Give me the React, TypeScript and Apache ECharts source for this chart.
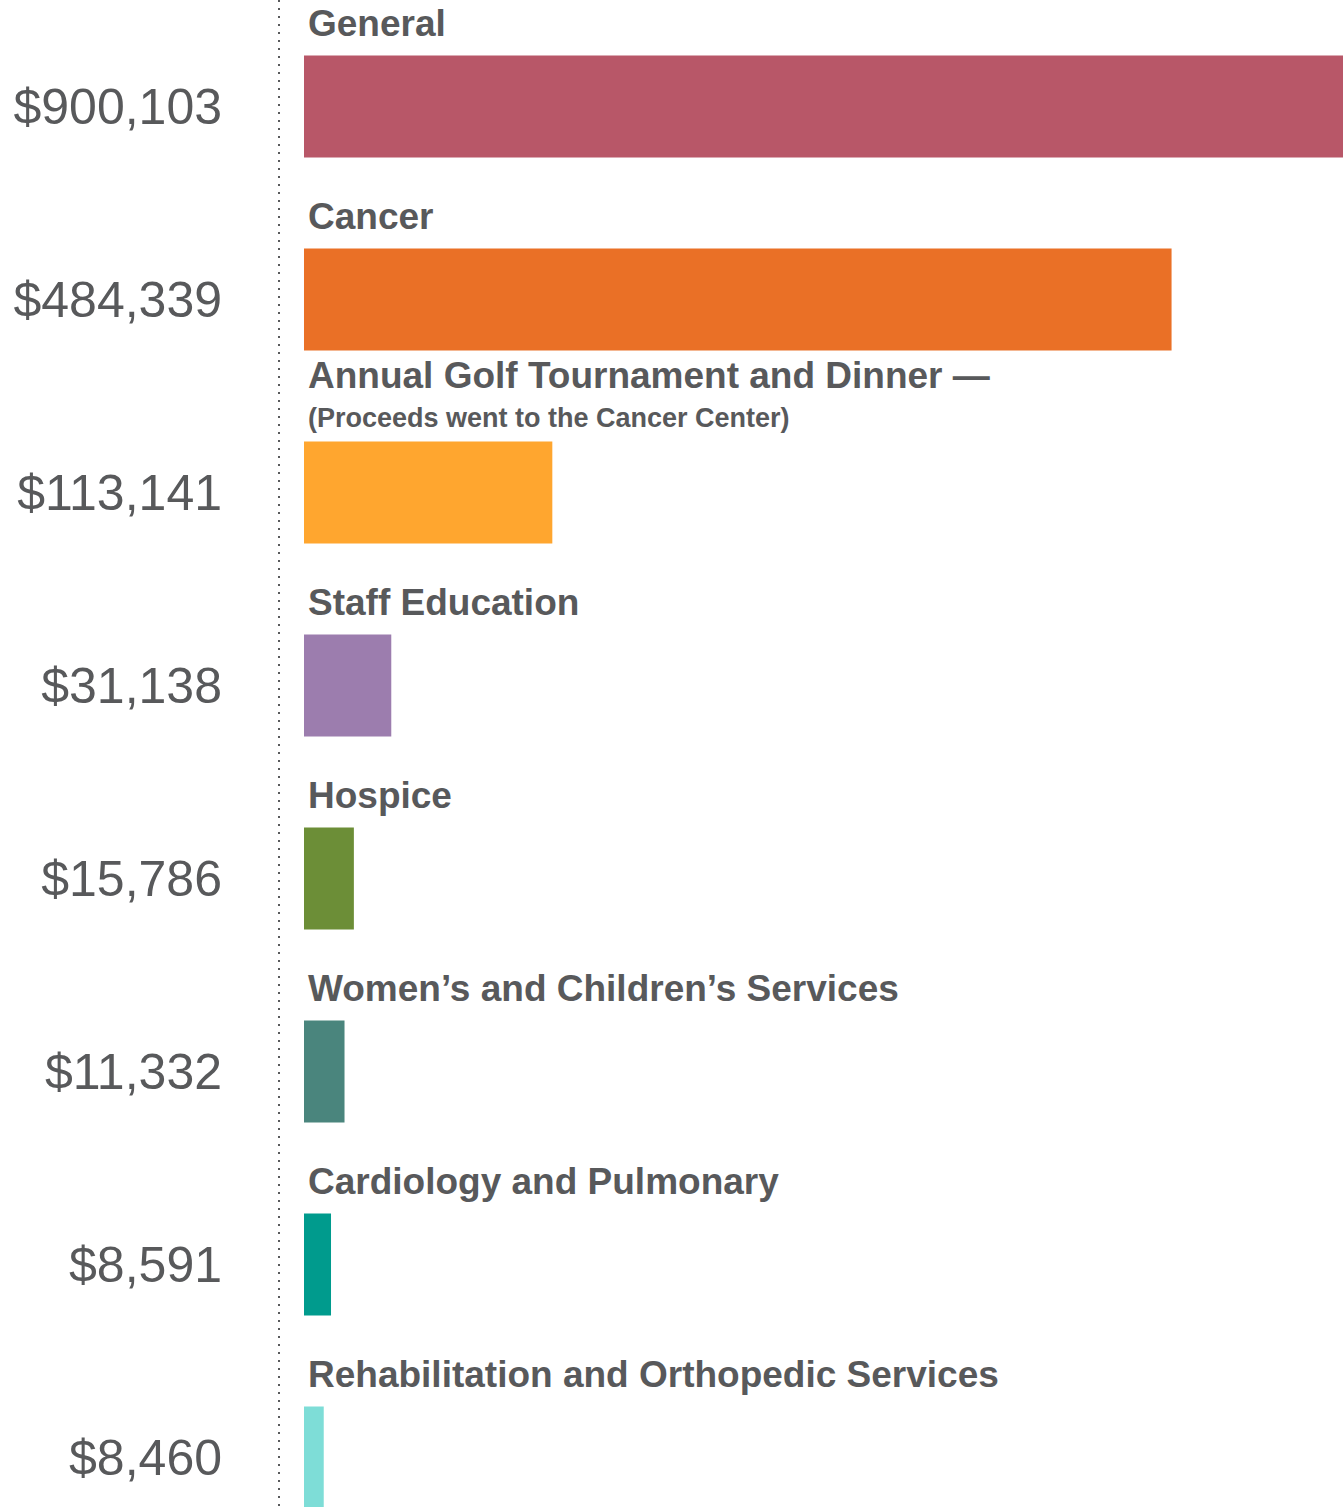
import React, { useEffect, useRef } from "react";
import * as echarts from "echarts";

const categories = [
  "General",
  "Cancer",
  "Annual Golf Tournament and Dinner —",
  "Staff Education",
  "Hospice",
  "Women’s and Children’s Services",
  "Cardiology and Pulmonary",
  "Rehabilitation and Orthopedic Services",
];
const subtitles = ["", "", "(Proceeds went to the Cancer Center)", "", "", "", "", ""];
const amountLabels = ["$900,103", "$484,339", "$113,141", "$31,138", "$15,786", "$11,332", "$8,591", "$8,460"];
// relative drawn bar length (percent of the longest bar)
const barLengthPct = [100, 83.5, 23.9, 8.4, 4.8, 3.9, 2.6, 1.9];
const colors = ["#B85768", "#EA7026", "#FFA62F", "#9C7DAE", "#6C8E37", "#4A857D", "#009B8D", "#7EDDD7"];

const TEXT = "#58595b";
const FONT = "'Liberation Sans', Arial, Helvetica, sans-serif";

export default function App() {
  const ref = useRef<HTMLDivElement>(null);
  useEffect(() => {
    if (!ref.current) return;
    const chart = echarts.init(ref.current, undefined, { renderer: "svg" });
    const data = barLengthPct.map((v, i) => {
      const hasSub = subtitles[i] !== "";
      return {
        value: v,
        itemStyle: { color: colors[i] },
        label: hasSub
          ? {
              show: true,
              position: [4, -9],
              align: "left",
              verticalAlign: "bottom",
              formatter: () => `{a|${categories[i]}}\n{b|${subtitles[i]}}`,
              rich: {
                a: { fontSize: 37, fontWeight: "bold", color: TEXT, fontFamily: FONT, lineHeight: 54 },
                b: { fontSize: 27, fontWeight: "bold", color: TEXT, fontFamily: FONT, lineHeight: 30 },
              },
            }
          : {
              show: true,
              position: [4, -12],
              align: "left",
              verticalAlign: "bottom",
              formatter: () => `{a|${categories[i]}}`,
              rich: {
                a: { fontSize: 37, fontWeight: "bold", color: TEXT, fontFamily: FONT, lineHeight: 40 },
              },
            },
      };
    });
    chart.setOption({
      animation: false,
      grid: { left: 304, right: 0, top: 10, height: 1544, containLabel: false },
      xAxis: { type: "value", min: 0, max: 100, show: false },
      yAxis: {
        type: "category",
        inverse: true,
        data: amountLabels,
        axisLine: { show: false },
        axisTick: { show: false },
        splitLine: { show: false },
        axisLabel: {
          margin: 82,
          fontSize: 50,
          color: TEXT,
          fontFamily: FONT,
          align: "right",
          verticalAlign: "middle",
        },
      },
      series: [
        {
          type: "bar",
          data,
          barWidth: 102,
          clip: false,
        },
      ],
      graphic: [
        {
          type: "line",
          shape: { x1: 279, y1: 0, x2: 279, y2: 1507 },
          style: { stroke: TEXT, lineWidth: 2, lineDash: [2, 6] },
          silent: true,
        },
      ],
    });
    return () => chart.dispose();
  }, []);
  return (
    <div
      style={{
        position: "absolute",
        left: 0,
        top: 0,
        width: 1343,
        height: 1507,
        overflow: "hidden",
      }}
    >
      <div ref={ref} style={{ width: 1343, height: 1560 }} />
    </div>
  );
}
